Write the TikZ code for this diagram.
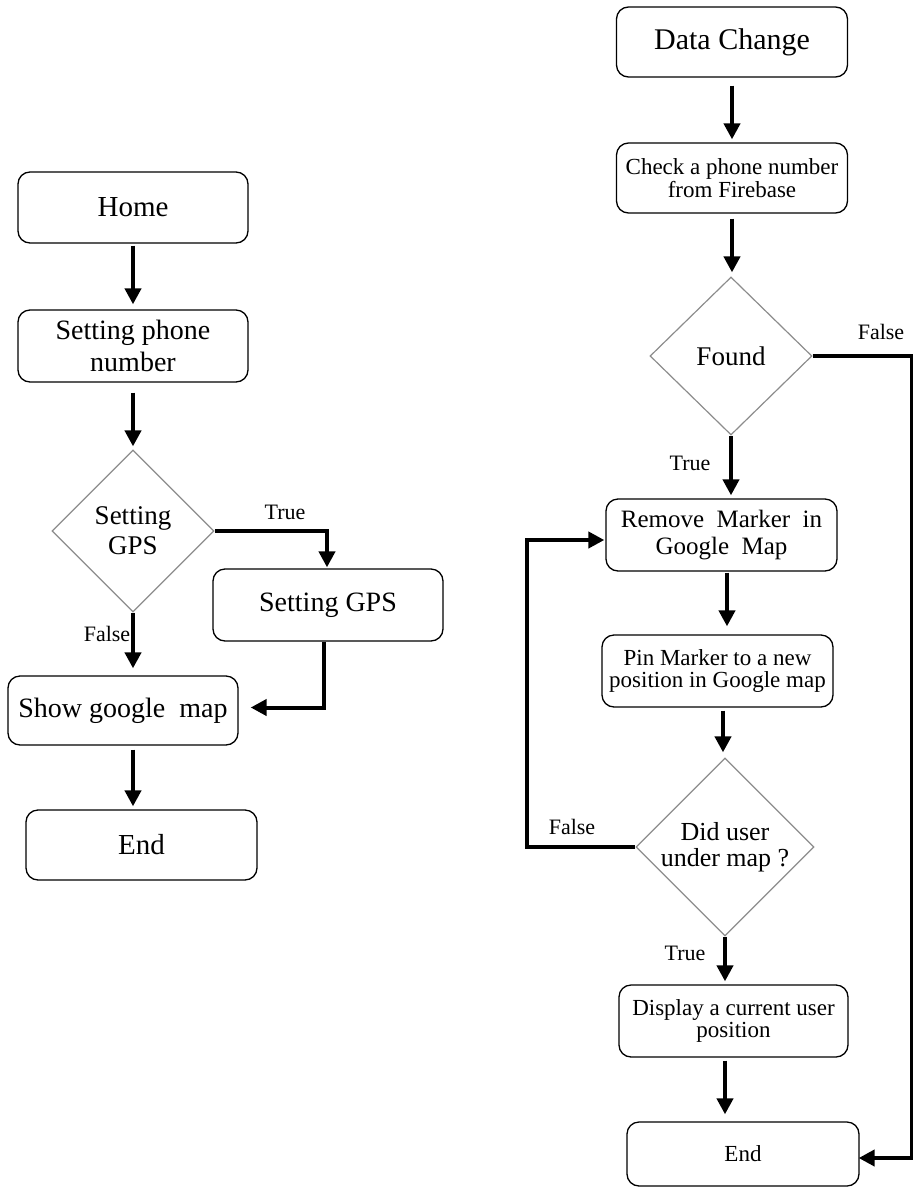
\documentclass[tikz,border=0pt]{standalone}
\usepackage{fontspec}
\setmainfont{Liberation Serif}
\usetikzlibrary{shapes.geometric,arrows.meta,calc}
\tikzset{
  fbox/.style={draw=black, line width=1.3pt, rounded corners=12pt, align=center, inner sep=2pt},
  dec/.style={draw=gray!90, line width=1.2pt, diamond, aspect=1, align=center, inner sep=0pt},
  arr/.style={line width=4pt, -{Triangle[width=16pt,length=16pt]}},
  lbl/.style={font=\fontsize{22}{24}\selectfont, inner sep=0pt}
}
\newcommand{\fs}[2]{\fontsize{#1}{#2}\selectfont}
\begin{document}
\begin{tikzpicture}[x=1pt,y=-1pt]
\useasboundingbox (0,0) rectangle (913,1189);
% left column
\node[fbox, minimum width=230pt, minimum height=71pt, font=\fs{29}{32}] (home) at (133,207.5) {Home};
\node[fbox, minimum width=230pt, minimum height=72pt, font=\fs{28}{32}] (phone) at (133,346) {Setting phone\\number};
\node[dec, minimum width=162pt, minimum height=162pt, font=\fs{27}{30}] (gps) at (133,531) {Setting\\GPS};
\node[fbox, minimum width=230pt, minimum height=72pt, font=\fs{28}{32}] (setgps) at (328,605) {Setting GPS};
\node[fbox, minimum width=230pt, minimum height=69pt, font=\fs{28}{32}] (map) at (123,710.5) {Show google\ \ map};
\node[fbox, minimum width=231pt, minimum height=70pt, font=\fs{29}{32}] (endl) at (141.5,845) {End};
% right column
\node[fbox, minimum width=231pt, minimum height=70pt, font=\fs{30}{32}] (dc) at (732,42) {Data Change};
\node[fbox, minimum width=231pt, minimum height=70pt, font=\fs{23}{23}] (check) at (732,178) {Check a phone number\\from Firebase};
\node[dec, minimum width=162pt, minimum height=158pt, font=\fs{27}{30}] (found) at (731,356) {Found};
\node[fbox, minimum width=231pt, minimum height=72pt, font=\fs{25}{27}] (remove) at (721.5,535) {Remove\ \ Marker\ \ in\\Google\ \ Map};
\node[fbox, minimum width=231pt, minimum height=72pt, font=\fs{23}{22}] (pin) at (717.5,671) {Pin Marker to a new\\position in Google map};
\node[dec, minimum width=161pt, minimum height=158pt, font=\fs{26}{26}] (did) at (725,847) {Did user\\under map ?};
\node[fbox, minimum width=229pt, minimum height=72pt, font=\fs{23}{22}] (disp) at (733.5,1021) {Display a current user\\position};
\node[fbox, minimum width=232pt, minimum height=64pt, font=\fs{23}{25}] (endr) at (743,1154) {End};
\coordinate (rc) at (912,356);
\coordinate (lc) at (527,847);
% left connectors
\draw[arr, shorten <=2pt, shorten >=5pt] (home) -- (phone);
\draw[arr, shorten <=10pt, shorten >=3pt] (phone) -- (gps);
\draw[arr, shorten >=1pt] (gps.east) -| ([xshift=-1pt]setgps.north);
\draw[arr, shorten >=7pt] (gps.south) -- (gps.south |- map.north);
\draw[arr] ([xshift=-4pt]setgps.south) |- ([xshift=12pt,yshift=3pt]map.east);
\draw[arr, shorten <=4pt, shorten >=3pt] ([xshift=10pt]map.south) -- ([xshift=10pt]map.south |- endl.north);
\node[lbl] (t1) at (285,512) {True};
\node[lbl] (f1) at (107,634) {False};
% right connectors
\draw[arr, shorten <=8pt, shorten >=3pt] (dc) -- (check);
\draw[arr, shorten <=5pt, shorten >=4pt] (check.south) -- (check.south |- found.north);
\draw[arr, shorten >=3pt] (found.south) -- (found.south |- remove.north);
\draw[arr, shorten >=-1pt] (found.east) -- (rc) |- ([yshift=-4pt]endr.east);
\draw[arr, shorten <=1pt, shorten >=8pt] ([xshift=5.5pt]remove.south) -- ([xshift=5.5pt]remove.south |- pin.north);
\draw[arr, shorten <=3pt, shorten >=5pt] ([xshift=5.5pt]pin.south) -- ([xshift=5.5pt]pin.south |- did.north);
\draw[arr, shorten >=1pt] (did.west) -- (lc) |- ([yshift=-5pt]remove.west);
\draw[arr, shorten >=3pt] (did.south) -- (did.south |- disp.north);
\draw[arr, shorten <=3pt, shorten >=7pt] (disp.south -| did.south) -- (did.south |- endr.north);
\node[lbl] (f2) at (881,332) {False};
\node[lbl] (t2) at (690,463) {True};
\node[lbl] (f3) at (572,827) {False};
\node[lbl] (t3) at (685,953) {True};
\end{tikzpicture}
\end{document}
